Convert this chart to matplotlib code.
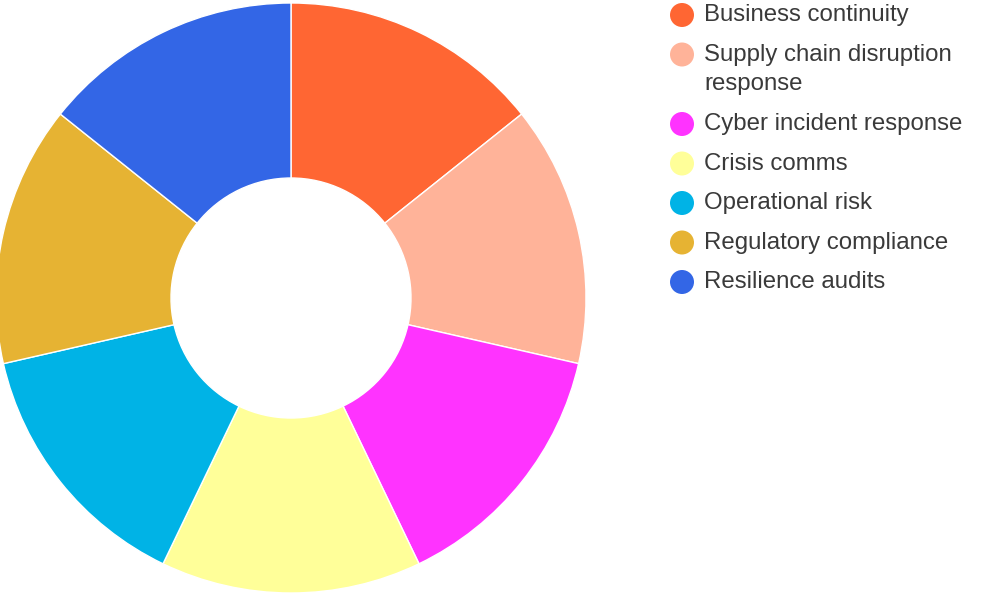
import matplotlib.pyplot as plt
from matplotlib.patches import Ellipse

labels = ["Business continuity", "Supply chain disruption\nresponse", "Cyber incident response",
          "Crisis comms", "Operational risk", "Regulatory compliance", "Resilience audits"]
values = [1, 1, 1, 1, 1, 1, 1]
colors = ["#FF6633", "#FFB399", "#FF33FF", "#FFFF99", "#00B3E6", "#E6B333", "#3366E6"]

W, H = 1000, 600
fig = plt.figure(figsize=(10, 6), dpi=100)

# donut: centre (291, 298) px, outer radius 295 px
cx, cy, r = 291, 298, 295
ax = fig.add_axes([(cx - r) / W, (H - cy - r) / H, 2 * r / W, 2 * r / H])
ax.pie(values, colors=colors, startangle=90, counterclock=False, radius=1,
       wedgeprops=dict(width=1 - 120 / 295, edgecolor="white", linewidth=1))
ax.set_xlim(-1, 1)
ax.set_ylim(-1, 1)
ax.set_aspect("equal")
ax.axis("off")

# legend drawn by hand
y = 15
for lab, col in zip(labels, colors):
    fig.patches.append(Ellipse((682 / W, 1 - y / H), 24 / W, 24 / H, transform=fig.transFigure,
                               facecolor=col, edgecolor="none"))
    nlines = lab.count("\n")
    fig.text(704 / W, 1 - (y + 15 * nlines) / H, lab, ha="left", va="center",
             fontsize=17.3, family="Liberation Sans", color="#3a3a3a",
             linespacing=1.4)
    y += 39.5 + 30 * nlines

fig.savefig("out.png", dpi=100)
